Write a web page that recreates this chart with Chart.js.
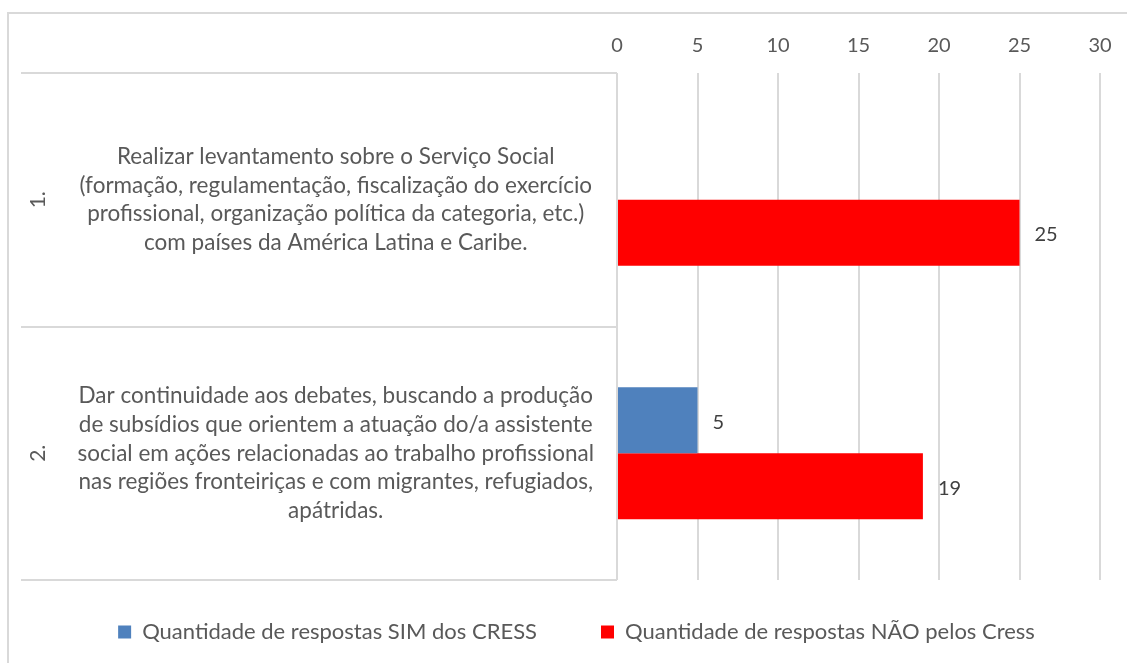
<!DOCTYPE html>
<html>
<head>
<meta charset="utf-8">
<script src="https://cdn.jsdelivr.net/npm/chart.js@4/dist/chart.umd.min.js"></script>
<style>
  html, body { margin: 0; padding: 0; background: #fff; overflow: hidden; }
  #box { position: absolute; left: 7px; top: 12px; width: 1130px; height: 660px; border: 2px solid #d9d9d9; }
  #wrap { position: absolute; left: 0; top: 0; width: 1118px; height: 649px; }
</style>
</head>
<body>
<div id="box"><div id="wrap"><canvas id="chart"></canvas></div></div>
<script>
// data
var groups = ['1.', '2.'];
var categories = [
    ['Realizar levantamento sobre o Serviço Social',
     '(formação, regulamentação, fiscalização do exercício',
     'profissional, organização política da categoria, etc.)',
     'com países da América Latina e Caribe.'],
    ['Dar continuidade aos debates, buscando a produção',
     'de subsídios que orientem a atuação do/a assistente',
     'social em ações relacionadas ao trabalho profissional',
     'nas regiões fronteiriças e com migrantes, refugiados,',
     'apátridas.']
];
var simValues = [null, 5];
var naoValues = [25, 19];
var seriesNames = ['Quantidade de respostas SIM dos CRESS', 'Quantidade de respostas NÃO pelos Cress'];
var xTicks = [0, 5, 10, 15, 20, 25, 30];

var FONT = 'Lato, "Liberation Sans", sans-serif';
var gridColor = '#d9d9d9';

// value labels at bar ends
var barValues = {
    id: 'barValues',
    afterDatasetsDraw: function(chart) {
        var ctx = chart.ctx;
        ctx.save();
        ctx.font = '20px ' + FONT;
        ctx.fillStyle = '#404040';
        ctx.textAlign = 'left';
        ctx.textBaseline = 'middle';
        chart.data.datasets.forEach(function(ds, i) {
            chart.getDatasetMeta(i).data.forEach(function(bar, j) {
                if (ds.data[j] === null) return;
                ctx.fillText(ds.data[j], bar.x + 15, bar.y + 2);
            });
        });
        ctx.restore();
    }
};

// category separators and rotated group labels
var groupAxis = {
    id: 'groupAxis',
    afterDraw: function(chart) {
        var ctx = chart.ctx;
        var y = chart.scales.y;
        var left = y.left;
        var right = chart.chartArea.left;
        var n = categories.length;
        var band = (y.bottom - y.top) / n;
        ctx.save();
        ctx.strokeStyle = gridColor;
        ctx.lineWidth = 2;
        for (var k = 0; k <= n; k++) {
            var py = Math.round(y.top + k * band);
            ctx.beginPath();
            ctx.moveTo(left, py);
            ctx.lineTo(right, py);
            ctx.stroke();
        }
        ctx.font = '21px ' + FONT;
        ctx.fillStyle = '#595959';
        ctx.textAlign = 'center';
        ctx.textBaseline = 'middle';
        for (var i = 0; i < n; i++) {
            ctx.save();
            ctx.translate(left + 17, y.getPixelForValue(i));
            ctx.rotate(-Math.PI / 2);
            ctx.fillText(groups[i], 0, 0);
            ctx.restore();
        }
        ctx.restore();
    }
};

// legend sits closer to the plot (and a bit more to the right) than the layout gives
var legendLift = {
    id: 'legendLift',
    afterLayout: function(chart) {
        chart.legend.top -= 23;
        chart.legend.left += 32;
    }
};

new Chart(document.getElementById('chart'), {
    type: 'bar',
    data: {
        labels: categories,
        datasets: [{
            label: seriesNames[0],
            data: simValues,
            backgroundColor: '#4f81bd'
        }, {
            label: seriesNames[1],
            data: naoValues,
            backgroundColor: '#ff0000'
        }]
    },
    options: {
        indexAxis: 'y',
        responsive: true,
        maintainAspectRatio: false,
        animation: false,
        categoryPercentage: 0.52,
        barPercentage: 1,
        layout: { padding: { top: 19, left: 12, right: 27, bottom: 0 } },
        scales: {
            x: {
                position: 'top',
                min: xTicks[0],
                max: xTicks[xTicks.length - 1],
                afterBuildTicks: function(scale) {
                    scale.ticks = xTicks.map(function(v) { return { value: v }; });
                },
                afterFit: function(scale) { scale.height = 40; },
                grid: { color: gridColor, lineWidth: 2, drawTicks: false },
                border: { display: false },
                ticks: { color: '#595959', padding: 15, font: { family: FONT, size: 20 } }
            },
            y: {
                afterFit: function(scale) {
                    scale.width = 596;
                    scale.paddingTop = 0;
                    scale.paddingBottom = 0;
                },
                grid: { display: false, drawTicks: false },
                border: { display: false },
                ticks: {
                    color: '#595959',
                    padding: 23,
                    crossAlign: 'center',
                    font: { family: FONT, size: 22.5, lineHeight: 1.27 }
                }
            }
        },
        plugins: {
            legend: {
                position: 'bottom',
                maxHeight: 83,
                labels: {
                    boxWidth: 13,
                    boxHeight: 13,
                    padding: 64,
                    color: '#595959',
                    font: { family: FONT, size: 22 }
                }
            },
            tooltip: { enabled: false }
        }
    },
    plugins: [barValues, groupAxis, legendLift]
});
</script>
</body>
</html>
